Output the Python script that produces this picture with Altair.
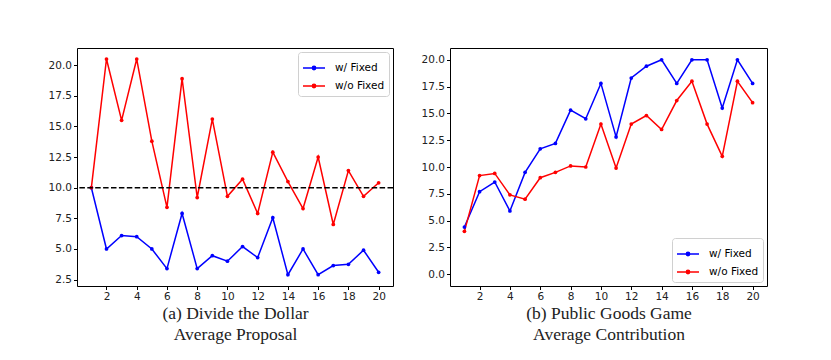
import altair as alt
import pandas as pd

rounds = list(range(1, 21))
series_names = ["w/ Fixed", "w/o Fixed"]
series_colors = ["#0000ff", "#ff0000"]

dd_fixed = [10.0, 5.0, 6.1, 6.0, 5.0, 3.4, 7.9, 3.4, 4.45, 4.0,
            5.2, 4.3, 7.55, 2.9, 5.0, 2.9, 3.65, 3.75, 4.9, 3.1]
dd_nofixed = [10.0, 20.5, 15.5, 20.5, 13.8, 8.4, 18.9, 9.2, 15.6, 9.3,
              10.7, 7.9, 12.9, 10.5, 8.3, 12.5, 7.0, 11.4, 9.3, 10.4]
pg_fixed = [4.4, 7.7, 8.6, 5.9, 9.5, 11.7, 12.2, 15.3, 14.5, 17.8,
            12.8, 18.3, 19.4, 20.0, 17.8, 20.0, 20.0, 15.5, 20.0, 17.8]
pg_nofixed = [4.0, 9.2, 9.4, 7.4, 7.0, 9.0, 9.5, 10.1, 10.0, 14.0,
              9.9, 14.0, 14.8, 13.5, 16.2, 18.0, 14.0, 11.0, 18.0, 16.0]
fair_share = [10.0]

x_ticks = list(range(2, 21, 2))
dd_y_ticks = [2.5, 5.0, 7.5, 10.0, 12.5, 15.0, 17.5, 20.0]
pg_y_ticks = [0.0, 2.5, 5.0, 7.5, 10.0, 12.5, 15.0, 17.5, 20.0]


def long_df(a, b):
    return pd.DataFrame({
        "round": rounds * 2,
        "value": a + b,
        "series": [series_names[0]] * len(a) + [series_names[1]] * len(b),
    })


dd_df = long_df(dd_fixed, dd_nofixed)
pg_df = long_df(pg_fixed, pg_nofixed)

color_scale = alt.Scale(domain=series_names, range=series_colors)
legend_path = "M-1,0H1M0.15,0A0.15,0.15,0,1,1,-0.15,0A0.15,0.15,0,1,1,0.15,0"


def make_legend(orient):
    return alt.Legend(
        title=None, orient=orient, offset=4, padding=4,
        strokeColor="#d0d0d0", fillColor="white", cornerRadius=3,
        labelFont="DejaVu Sans", labelFontSize=10.5, labelColor="black",
        symbolType=legend_path, symbolSize=484, symbolStrokeWidth=1.5,
        labelOffset=9, rowPadding=-8,
    )


def axis_x(title):
    return alt.Axis(
        values=x_ticks, title=title, grid=False, domain=False,
        tickColor="black", tickSize=3.5, labelColor="#222222",
        labelFont="DejaVu Sans", labelFontSize=10.5, labelPadding=2,
        titleFont="Liberation Serif", titleFontSize=17.5,
        titleFontWeight="normal", titleColor="#222222",
        titleLineHeight=21, titlePadding=2,
    )


def axis_y(values):
    return alt.Axis(
        values=values, format=".1f", title=None, grid=False, domain=False,
        tickColor="black", tickSize=3.5, labelColor="#222222",
        labelFont="DejaVu Sans", labelFontSize=10.5, labelPadding=2,
        labelOverlap=False, minExtent=32, maxExtent=32,
    )


def panel(df, ydomain, yticks, title, legend_orient):
    return alt.Chart(df).mark_line(
        strokeWidth=1.5,
        point=alt.OverlayMarkDef(size=14, filled=True),
    ).encode(
        x=alt.X("round:Q", scale=alt.Scale(domain=[0.05, 20.95], nice=False, zero=False),
                axis=axis_x(title)),
        y=alt.Y("value:Q", scale=alt.Scale(domain=ydomain, nice=False, zero=False),
                axis=axis_y(yticks)),
        color=alt.Color("series:N", scale=color_scale, legend=make_legend(legend_orient)),
    )


dd_ydomain = [1.98, 21.4]
left_lines = panel(dd_df, dd_ydomain, dd_y_ticks,
                   ["(a) Divide the Dollar", "Average Proposal"], "top-right")
ref_rule = alt.Chart(pd.DataFrame({"value": fair_share})).mark_rule(
    color="black", strokeWidth=1.5, strokeDash=[5.5, 2.4]
).encode(y=alt.Y("value:Q", scale=alt.Scale(domain=dd_ydomain, nice=False, zero=False),
                 axis=axis_y(dd_y_ticks)))
left = alt.layer(left_lines, ref_rule).properties(width=316, height=238)

right = panel(pg_df, [-1.1, 21.1], pg_y_ticks,
              ["(b) Public Goods Game", "Average Contribution"], "bottom-right"
              ).properties(width=317, height=238)

chart = alt.hconcat(left, right, spacing=22).resolve_legend(
    color="independent"
).properties(
    padding={"left": 36, "top": 39, "right": 5, "bottom": 5},
    background="white",
).configure_view(
    stroke="black", strokeWidth=1
)

chart.save("out.html", embed_options={"renderer": "svg", "actions": False})
